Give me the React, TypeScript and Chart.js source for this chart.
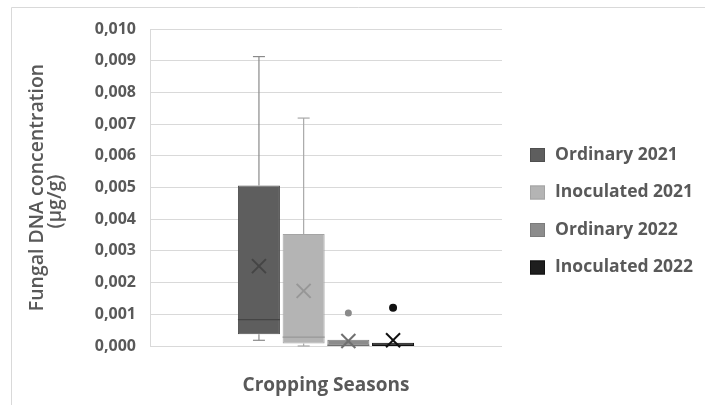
import React, { useEffect, useRef } from "react";
import { Chart, registerables } from "chart.js";

Chart.register(...registerables);

const categories = [""];
const seriesNames = ["Ordinary 2021", "Inoculated 2021", "Ordinary 2022", "Inoculated 2022"];
const mins = [0.00018, 0.0, 0.0, 0.0];
const q1s = [0.00037, 0.00008, 0.0, 0.0];
const medians = [0.00083, 0.00028, 0.00002, 0.00002];
const q3s = [0.00506, 0.00353, 0.0002, 0.0001];
const maxs = [0.00913, 0.00719, 0.0002, 0.0001];
const means = [0.00252, 0.00174, 0.00016, 0.00018];
const outliers = [[], [], [0.00104], [0.00121]];
const yMin = 0;
const yMax = 0.01;
const yStep = 0.001;
const yTitleLines = ["Fungal DNA concentration", "(µg/g)"];
const xTitle = "Cropping Seasons";

const boxColors = ["#5e5e5e", "#b4b4b4", "#8c8c8c", "#1e1e1e"];
const boxBorders = ["#4f4f4f", "#a4a4a4", "#7c7c7c", "#111111"];
const whiskerColors = ["#8a8a8a", "#a8a8a8", "#8c8c8c", "#1e1e1e"];
const markColors = ["#454545", "#979797", "#707070", "#111111"];
const textColor = "#595959";
const gridColor = "#d9d9d9";
const FONT = "'Open Sans', sans-serif";

const framePlugin = {
  id: "frame",
  beforeDraw(chart: any) {
    const ctx = chart.ctx;
    ctx.save();
    ctx.fillStyle = "#ffffff";
    ctx.fillRect(0, 0, chart.width, chart.height);
    ctx.strokeStyle = gridColor;
    ctx.lineWidth = 1;
    ctx.beginPath();
    ctx.moveTo(11.5, chart.height);
    ctx.lineTo(11.5, 7.5);
    ctx.lineTo(chart.width, 7.5);
    ctx.stroke();
    ctx.restore();
  },
  afterDraw(chart: any) {
    const ctx = chart.ctx;
    const area = chart.chartArea;
    const cy = (area.top + area.bottom) / 2;
    ctx.save();
    ctx.fillStyle = textColor;
    ctx.font = `600 19.5px ${FONT}`;
    ctx.textAlign = "center";
    ctx.textBaseline = "middle";
    const xs = [37, 55];
    const offs = [0, 14];
    yTitleLines.forEach((t, i) => {
      ctx.save();
      ctx.translate(xs[i], cy + offs[i]);
      ctx.rotate(-Math.PI / 2);
      ctx.fillText(t, 0, 0);
      ctx.restore();
    });
    ctx.restore();
  },
};

const boxPlugin = {
  id: "boxExtras",
  afterDatasetsDraw(chart: any) {
    const ctx = chart.ctx;
    const y = chart.scales.y;
    chart.data.datasets.forEach((ds: any, i: number) => {
      const bar = chart.getDatasetMeta(i).data[0] as any;
      if (!bar) return;
      const x = bar.x;
      const w = bar.width;
      const cap = 12;
      const line = (x1: number, y1: number, x2: number, y2: number) => {
        ctx.beginPath();
        ctx.moveTo(x1, y1);
        ctx.lineTo(x2, y2);
        ctx.stroke();
      };
      ctx.save();
      ctx.strokeStyle = whiskerColors[i];
      ctx.lineWidth = 1.2;
      const yq3 = y.getPixelForValue(q3s[i]);
      const yq1 = y.getPixelForValue(q1s[i]);
      const yMaxP = y.getPixelForValue(maxs[i]);
      const yMinP = y.getPixelForValue(mins[i]);
      if (yMaxP < yq3) {
        line(x, yq3, x, yMaxP);
        line(x - cap / 2, yMaxP, x + cap / 2, yMaxP);
      }
      if (yMinP > yq1) {
        line(x, yq1, x, yMinP);
        line(x - cap / 2, yMinP, x + cap / 2, yMinP);
      }
      ctx.strokeStyle = markColors[i];
      ctx.lineWidth = 1.2;
      const ym = y.getPixelForValue(medians[i]);
      line(x - w / 2, ym, x + w / 2, ym);
      const ymean = y.getPixelForValue(means[i]);
      const s = 7;
      ctx.lineWidth = 2;
      line(x - s, ymean - s, x + s, ymean + s);
      line(x - s, ymean + s, x + s, ymean - s);
      ctx.fillStyle = i === 3 ? "#111111" : "#8a8a8a";
      outliers[i].forEach((v) => {
        const yo = y.getPixelForValue(v);
        ctx.beginPath();
        ctx.arc(x, yo, i === 3 ? 4 : 3.5, 0, Math.PI * 2);
        ctx.fill();
      });
      ctx.restore();
    });
  },
};

const legendPlugin = {
  id: "sideLegend",
  afterDraw(chart: any) {
    const ctx = chart.ctx;
    ctx.save();
    ctx.font = `bold 17.5px ${FONT}`;
    ctx.textBaseline = "middle";
    ctx.textAlign = "left";
    chart.data.datasets.forEach((ds: any, i: number) => {
      const cy = 155 + i * 37.5;
      ctx.fillStyle = boxColors[i];
      ctx.fillRect(530, cy - 7, 15, 14);
      ctx.strokeStyle = boxBorders[i];
      ctx.lineWidth = 1;
      ctx.strokeRect(530.5, cy - 6.5, 14, 13);
      ctx.fillStyle = textColor;
      ctx.fillText(ds.label, 555, cy);
    });
    ctx.restore();
  },
};

export default function App() {
  const ref = useRef<HTMLCanvasElement>(null);
  useEffect(() => {
    if (!ref.current) return;
    const chart = new Chart(ref.current, {
      type: "bar",
      data: {
        labels: categories,
        datasets: seriesNames.map((name, i) => ({
          label: name,
          data: [[q1s[i], q3s[i]]] as any,
          backgroundColor: boxColors[i],
          borderColor: boxBorders[i],
          borderWidth: 1,
          borderSkipped: false,
          barPercentage: 0.94,
          categoryPercentage: 0.508,
        })),
      },
      options: {
        responsive: false,
        animation: false,
        devicePixelRatio: 1,
        layout: { padding: { top: 29, right: 203, left: 0, bottom: 0 } },
        plugins: { legend: { display: false }, tooltip: { enabled: false } },
        scales: {
          x: {
            grid: { display: false },
            border: { display: false },
            ticks: { display: false },
            title: {
              display: true,
              text: xTitle,
              color: textColor,
              font: { family: FONT, size: 19, weight: "bold" },
              padding: { top: 0, bottom: 8 },
            },
            afterFit: (s: any) => {
              s.height = 59;
            },
          },
          y: {
            min: yMin,
            max: yMax,
            ticks: {
              stepSize: yStep,
              color: textColor,
              font: { family: FONT, size: 16, weight: "bold" },
              padding: 14,
              callback: (v: any) => Number(v).toFixed(3).replace(".", ","),
            },
            grid: { color: gridColor, lineWidth: 1, drawTicks: false },
            border: { display: true, color: gridColor },
            title: { display: false },
            afterFit: (s: any) => {
              s.width = 150;
            },
          },
        },
      },
      plugins: [framePlugin, boxPlugin, legendPlugin],
    });
    return () => chart.destroy();
  }, []);
  return (
    <div style={{ position: "absolute", left: 0, top: 0, width: 705, height: 405 }}>
      <canvas ref={ref} width={705} height={405} style={{ display: "block" }} />
    </div>
  );
}
